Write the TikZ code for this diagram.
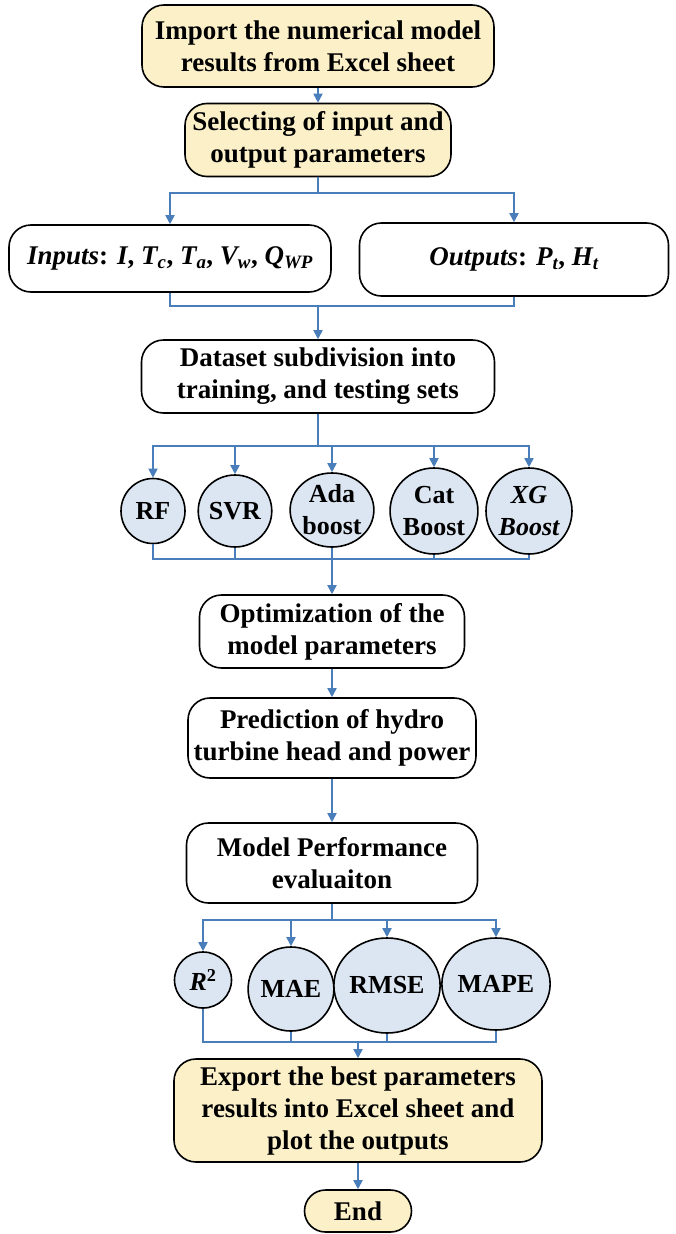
\documentclass[tikz,border=0pt]{standalone}
\usepackage{fontspec}
\setmainfont{Liberation Serif}
\usetikzlibrary{arrows.meta,shapes.geometric}
\definecolor{flowblue}{HTML}{4A7EBB}
\definecolor{boxyellow}{HTML}{FBF0C8}
\definecolor{circblue}{HTML}{DCE6F2}
\begin{document}
\begin{tikzpicture}[x=1pt,y=-1pt,
  box/.style={draw=black, line width=1.6pt, rounded corners=22pt, align=center, inner sep=0pt,
    font=\fontsize{27}{32}\selectfont\bfseries},
  ybox/.style={box, fill=boxyellow},
  wbox/.style={box, fill=white},
  circ/.style={ellipse, draw=black, line width=1.6pt, fill=circblue, align=center, inner sep=0pt,
    font=\fontsize{26}{32}\selectfont\bfseries},
  conn/.style={draw=flowblue, line width=1.8pt},
  arr/.style={conn, -{Triangle[length=9pt,width=9pt]}}]
\useasboundingbox (0,0) rectangle (675,1234);
\fill[white] (0,0) rectangle (675,1234);

\node[ybox, minimum width=352pt, minimum height=82pt] (b1) at (318,46) {Import the numerical model\\results from Excel sheet};
\node[ybox, minimum width=266pt, minimum height=73pt] (b2) at (318,140) {Selecting of input and\\output parameters};
\node[wbox, minimum width=322pt, minimum height=67pt] (inp) at (170,258.5)
  {\itshape Inputs\upshape: \itshape I\upshape, \itshape T\textsubscript{c}\upshape, \itshape T\textsubscript{a}\upshape, \itshape V\textsubscript{w}\upshape, \itshape Q\textsubscript{WP}};
\node[wbox, minimum width=309pt, minimum height=73pt] (out) at (514,259.5)
  {\itshape Outputs\upshape: \itshape P\textsubscript{t}\upshape, \itshape H\textsubscript{t}};
\node[wbox, minimum width=353pt, minimum height=73pt] (ds) at (318,376.5) {Dataset subdivision into\\training, and testing sets};

\node[circ, minimum width=64pt, minimum height=65pt] (rf) at (153,511) {RF};
\node[circ, minimum width=71pt, minimum height=72pt] (svr) at (235,511) {SVR};
\node[circ, minimum width=70pt, minimum height=74pt] (ada) at (332,510) {Ada\\boost};
\node[circ, minimum width=87pt, minimum height=86pt] (cat) at (434,511) {Cat\\Boost};
\node[circ, minimum width=86pt, minimum height=86pt] (xg) at (529,511) {\itshape XG\\\itshape Boost};

\node[wbox, minimum width=265pt, minimum height=73pt] (opt) at (332,631.5) {Optimization of the\\model parameters};
\node[wbox, minimum width=288pt, minimum height=80pt] (pred) at (332,738) {Prediction of hydro\\turbine head and power};
\node[wbox, minimum width=291pt, minimum height=80pt] (mpe) at (332,863) {Model Performance\\evaluaiton};

\node[circ, minimum width=57pt, minimum height=56pt] (r2) at (203,980) {\itshape R\upshape\textsuperscript{2}};
\node[circ, minimum width=81pt, minimum height=84pt] (mae) at (291,989) {MAE};
\node[circ, minimum width=88pt, minimum height=95pt] (rmse) at (387,985.5) {RMSE};
\node[circ, minimum width=90pt, minimum height=92pt] (mape) at (496,984) {MAPE};

\node[ybox, minimum width=368pt, minimum height=103pt] (exp) at (358,1110.5) {Export the best parameters\\results into Excel sheet and\\plot the outputs};
\node[ybox, rounded corners=21pt, minimum width=107pt, minimum height=42pt] (end) at (358,1211) {End};

% connectors
\draw[arr] (b1.south) -- (b2.north);
\draw[arr] (b2.south) -- ++(0,16) -| (inp.north);
\draw[arr] (b2.south) -- ++(0,16) -| (out.north);
\coordinate (j1) at (318,306);
\draw[conn] (inp.south) |- (j1) -| (out.south);
\draw[arr] (j1) -- (ds.north);

\coordinate (j2) at (318,446);
\draw[conn] (ds.south) -- (j2);
\foreach \n in {rf,svr,ada,cat,xg} \draw[arr] (j2) -| (\n.north);
\coordinate (j3) at (332,559);
\foreach \n in {rf,svr,ada,cat,xg} \draw[conn] (\n.south) |- (j3);
\draw[arr] (j3) -- (opt.north);
\draw[arr] (opt.south) -- (pred.north);
\draw[arr] (pred.south) -- (mpe.north);

\coordinate (j4) at (332,920);
\draw[conn] (mpe.south) -- (j4);
\foreach \n in {r2,mae,rmse,mape} \draw[arr] (j4) -| (\n.north);
\coordinate (j5) at (358,1042);
\foreach \n in {r2,mae,rmse,mape} \draw[conn] (\n.south) |- (j5);
\draw[arr] (j5) -- (exp.north);
\draw[arr] (exp.south) -- (end.north);
\end{tikzpicture}
\end{document}
